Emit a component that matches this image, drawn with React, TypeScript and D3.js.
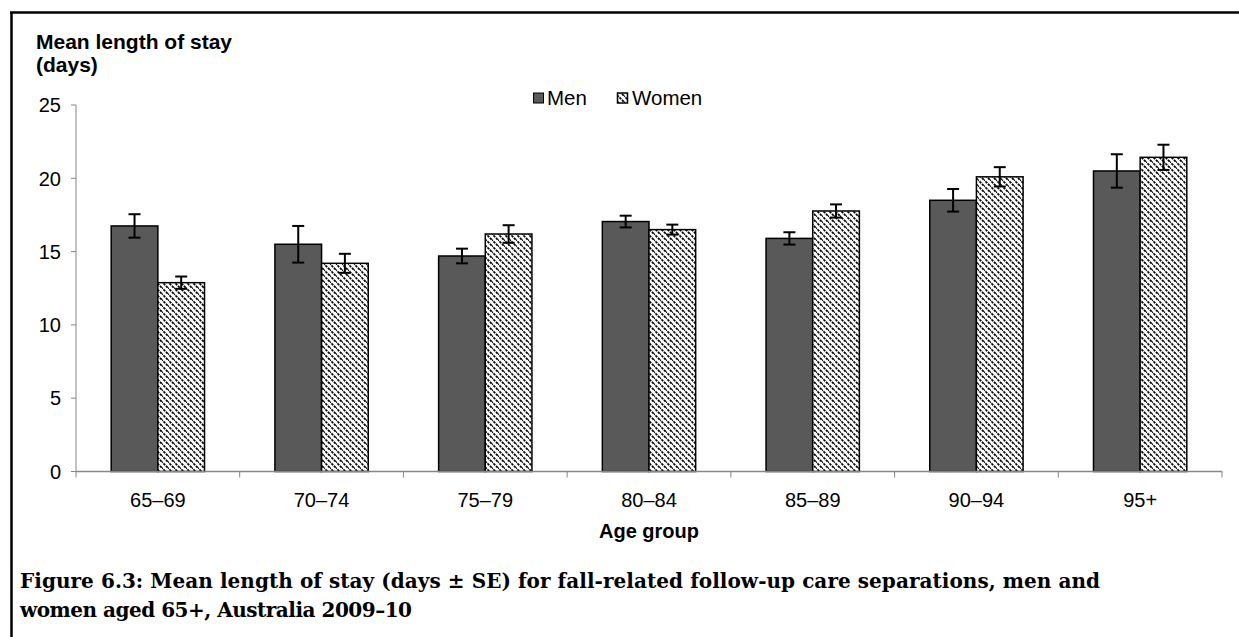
import React from "react";
import * as d3 from "d3";

const categories = ["65–69", "70–74", "75–79", "80–84", "85–89", "90–94", "95+"];
const menValues = [16.75, 15.5, 14.7, 17.05, 15.9, 18.5, 20.5];
const menSE = [0.8, 1.25, 0.5, 0.4, 0.42, 0.77, 1.14];
const womenValues = [12.88, 14.2, 16.2, 16.5, 17.77, 20.1, 21.43];
const womenSE = [0.42, 0.65, 0.6, 0.34, 0.45, 0.66, 0.86];
const yTicks = [0, 5, 10, 15, 20, 25];
const seriesNames = ["Men", "Women"];

const W = 1239;
const H = 637;
const margin = { left: 76, right: 1222, top: 105, bottom: 471.5 };

export default function App() {
  const x = d3.scaleBand<string>().domain(categories).range([margin.left, margin.right]).paddingInner(0.43).paddingOuter(0.215);
  const y = d3.scaleLinear().domain([0, 25]).range([margin.bottom, margin.top]);
  const bw = x.bandwidth() / 2;
  const step = (margin.right - margin.left) / categories.length;
  const sans = "Liberation Sans, Arial, sans-serif";
  const fs = 20;

  const series = [
    { name: seriesNames[0], vals: menValues, se: menSE, fill: "#595959" },
    { name: seriesNames[1], vals: womenValues, se: womenSE, fill: "url(#hatch)" },
  ];

  return (
    <svg width={W} height={H} style={{ position: "absolute", left: 0, top: 0, background: "#fff" }}>
      <defs>
        <pattern id="hatch" patternUnits="userSpaceOnUse" width="6" height="6">
          <rect width="6" height="6" fill="#fff" />
          <path d="M-1,-1 L7,7 M-4,2 L2,8 M4,-2 L8,2" stroke="#000" strokeWidth="1.7" strokeDasharray="2.5 1" />
        </pattern>
      </defs>
      <rect x={0} y={0} width={W} height={H} fill="#fff" />
      {/* frame */}
      <line x1={10} y1={12.5} x2={W} y2={12.5} stroke="#000" strokeWidth={2.5} />
      <line x1={11.5} y1={12} x2={11.5} y2={H} stroke="#000" strokeWidth={2.5} />

      {/* y axis title */}
      <text x={36} y={49} fontFamily={sans} fontWeight="bold" fontSize={21} fill="#000">Mean length of stay</text>
      <text x={36} y={72} fontFamily={sans} fontWeight="bold" fontSize={21} fill="#000">(days)</text>

      {/* y axis */}
      <line x1={margin.left} y1={margin.top} x2={margin.left} y2={margin.bottom} stroke="#868686" strokeWidth={1} />
      {yTicks.map((t) => (
        <g key={t}>
          <line x1={margin.left - 5} x2={margin.left} y1={y(t)} y2={y(t)} stroke="#868686" />
          <text x={61} y={y(t)} dy="0.36em" textAnchor="end" fontFamily={sans} fontSize={fs} fill="#000">{t}</text>
        </g>
      ))}

      {/* bars */}
      {categories.map((c, i) => (
        <g key={c}>
          {series.map((s, j) => {
            const bx = (x(c) as number) + j * bw;
            const v = s.vals[i];
            return (
              <rect key={s.name} x={bx} y={y(v)} width={bw} height={y(0) - y(v)} fill={s.fill} stroke="#000" strokeWidth={1.5} />
            );
          })}
        </g>
      ))}

      {/* x axis */}
      <line x1={margin.left} x2={margin.right} y1={margin.bottom} y2={margin.bottom} stroke="#868686" strokeWidth={1.5} />
      {d3.range(categories.length + 1).map((k) => (
        <line key={k} x1={margin.left + k * step} x2={margin.left + k * step} y1={margin.bottom} y2={margin.bottom + 6} stroke="#868686" />
      ))}
      {categories.map((c) => (
        <text key={c} x={(x(c) as number) + x.bandwidth() / 2} y={507} textAnchor="middle" fontFamily={sans} fontSize={fs} fill="#000">{c}</text>
      ))}

      {/* error bars */}
      {categories.map((c, i) => (
        <g key={"e" + c}>
          {series.map((s, j) => {
            const cx = (x(c) as number) + j * bw + bw / 2;
            const lo = y(s.vals[i] - s.se[i]);
            const hi = y(s.vals[i] + s.se[i]);
            return (
              <g key={s.name} stroke="#000" strokeWidth={2}>
                <line x1={cx} x2={cx} y1={hi} y2={lo} />
                <line x1={cx - 6} x2={cx + 6} y1={hi} y2={hi} />
                <line x1={cx - 6} x2={cx + 6} y1={lo} y2={lo} />
              </g>
            );
          })}
        </g>
      ))}

      <text x={649} y={538} textAnchor="middle" fontFamily={sans} fontWeight="bold" fontSize={fs} fill="#000">Age group</text>

      {/* legend */}
      <rect x={533.5} y={93} width={10} height={10} fill="#595959" stroke="#000" strokeWidth={1} />
      <text x={547} y={105} fontFamily={sans} fontSize={20.5} fill="#000">{seriesNames[0]}</text>
      <rect x={617.5} y={93} width={10} height={10} fill="url(#hatch)" stroke="#000" strokeWidth={1.5} />
      <text x={632} y={105} fontFamily={sans} fontSize={20.5} fill="#000">{seriesNames[1]}</text>

      {/* caption */}
      <text x={20} y={588} fontFamily="DejaVu Serif, serif" fontWeight="bold" fontSize={20} textLength={1080} lengthAdjust="spacing" fill="#000">Figure 6.3: Mean length of stay (days ± SE) for fall-related follow-up care separations, men and</text>
      <text x={20} y={617} fontFamily="DejaVu Serif, serif" fontWeight="bold" fontSize={20} textLength={392} lengthAdjust="spacing" fill="#000">women aged 65+, Australia 2009–10</text>
    </svg>
  );
}
